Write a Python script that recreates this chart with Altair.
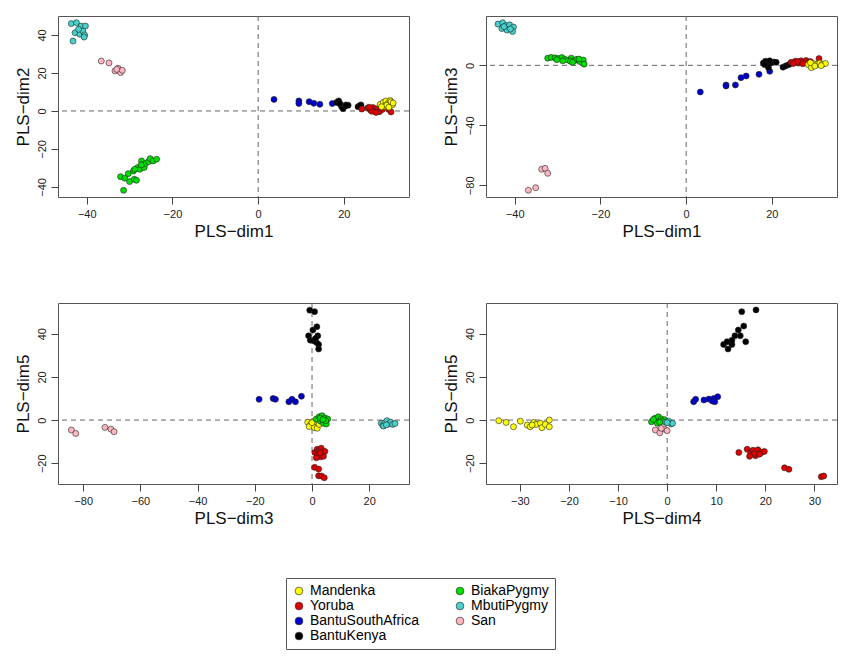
import altair as alt
import pandas as pd

groups = ["Mandenka", "Yoruba", "BantuSouthAfrica", "BantuKenya",
          "BiakaPygmy", "MbutiPygmy", "San"]
colors = ["#FFFF00", "#E00000", "#0000CD", "#000000",
          "#00DD00", "#48D1CC", "#FFB6C1"]

# panel 1: dim1 vs dim2
p1 = {
    "MbutiPygmy": [(-43.6, 46.0), (-42.4, 46.5), (-41.3, 44.7), (-40.3, 44.7), (-42.7, 41.2),
                   (-41.6, 40.4), (-40.9, 42.1), (-40.5, 40.0), (-43.2, 36.8), (-40.6, 38.9),
                   (-41.9, 43.0)],
    "San": [(-36.6, 26.3), (-34.8, 25.3), (-33.4, 21.1), (-32.7, 22.5), (-32.1, 20.2),
            (-31.7, 21.4), (-33.0, 21.9)],
    "BiakaPygmy": [(-32.1, -34.6), (-31.1, -35.4), (-31.4, -41.8), (-30.3, -33.0), (-30.0, -37.2),
                   (-29.1, -31.6), (-28.9, -36.0), (-28.4, -36.5), (-28.1, -29.8), (-27.6, -30.7),
                   (-27.2, -26.3), (-27.0, -28.4), (-26.6, -29.8), (-26.3, -27.7), (-25.6, -26.7),
                   (-25.2, -25.1), (-24.5, -26.3), (-23.7, -25.4), (-27.3, -28.4), (-28.8, -30.7)],
    "BantuSouthAfrica": [(3.7, 6.1), (9.5, 5.3), (9.5, 3.9), (11.9, 4.9), (13.0, 4.0),
                         (14.4, 3.5), (17.3, 3.9)],
    "BantuKenya": [(18.3, 4.5), (18.8, 5.3), (19.2, 3.5), (19.5, 2.2), (19.8, 1.2), (20.3, 2.5),
                   (21.0, 3.0), (19.0, 4.0), (20.5, 3.2), (23.3, 2.2), (24.0, 3.2), (23.7, 2.8)],
    "Yoruba": [(24.2, 1.0), (25.5, 1.5), (26.2, 0.5), (26.8, 1.8), (27.2, 0.0), (27.8, 1.2),
               (28.3, -0.4), (29.0, 0.8), (26.5, -0.2), (25.9, 2.0), (28.8, 2.2), (30.5, 0.8),
               (31.0, -0.5), (27.5, -0.8)],
    "Mandenka": [(28.5, 3.5), (29.2, 4.5), (29.8, 5.2), (30.3, 4.0), (30.8, 5.5), (31.3, 3.2),
                 (29.5, 2.5), (30.0, 3.0), (31.0, 4.8), (28.8, 2.2), (30.5, 2.0), (31.5, 4.2)],
}

# panel 2: dim1 vs dim3
p2 = {
    "MbutiPygmy": [(-43.9, 27.5), (-42.8, 28.4), (-42.0, 26.5), (-41.2, 27.0), (-40.3, 25.5),
                   (-43.0, 24.5), (-41.8, 23.5), (-40.5, 22.6), (-42.5, 25.8), (-41.0, 24.2)],
    "BiakaPygmy": [(-32.3, 4.8), (-31.5, 5.3), (-30.6, 5.0), (-29.8, 4.5), (-29.0, 5.2), (-28.3, 4.0),
                   (-27.5, 3.5), (-26.8, 4.8), (-26.0, 3.2), (-25.5, 4.0), (-24.8, 2.5), (-24.0, 3.5),
                   (-23.8, 0.8), (-28.8, 3.0), (-27.0, 2.8), (-25.0, 4.2), (-30.2, 3.8), (-26.5, 2.0)],
    "San": [(-33.7, -69.3), (-32.9, -68.7), (-32.3, -72.0), (-35.1, -81.6), (-36.8, -83.3)],
    "BantuSouthAfrica": [(3.3, -17.8), (9.3, -13.1), (9.3, -13.8), (11.5, -13.1), (12.8, -8.2),
                         (14.0, -7.1), (17.0, -6.0), (19.5, -4.0)],
    "BantuKenya": [(18.0, 1.5), (18.5, 2.8), (19.0, 0.0), (19.2, -1.5), (19.8, 1.8), (20.5, 2.2),
                   (21.0, 2.0), (18.3, 0.5), (19.5, 3.0), (22.6, -1.2), (23.3, -0.3), (24.0, 0.5)],
    "Yoruba": [(24.5, 2.0), (25.5, 2.8), (26.2, 1.5), (26.8, 3.0), (27.5, 2.2), (28.0, 3.2),
               (28.5, 1.8), (26.0, 2.5), (27.2, 1.0), (31.0, 4.5), (29.0, 2.5), (25.0, 1.2)],
    "Mandenka": [(28.5, 0.5), (29.2, -1.5), (29.8, 1.0), (30.5, 0.5), (31.2, 1.5), (31.8, 0.8),
                 (32.5, 1.2), (30.0, -0.5), (29.0, 1.8), (31.5, -0.2)],
}

# panel 3: dim3 vs dim5
p3 = {
    "BantuKenya": [(-0.8, 50.9), (0.9, 50.2), (1.7, 43.2), (0.3, 41.7), (-1.2, 39.0), (2.0, 39.0),
                   (-0.6, 37.0), (0.6, 36.7), (1.5, 36.0), (2.3, 35.0), (2.3, 32.9), (1.2, 37.8)],
    "BantuSouthAfrica": [(-18.5, 9.6), (-13.6, 10.0), (-12.8, 9.6), (-8.1, 8.5), (-7.0, 9.6),
                         (-5.8, 8.5), (-3.7, 11.0)],
    "San": [(-84.1, -4.6), (-82.6, -6.2), (-72.4, -3.4), (-70.3, -4.2), (-69.2, -5.4)],
    "Mandenka": [(-1.5, -1.0), (-0.5, -2.0), (0.5, -0.5), (1.2, -2.5), (2.0, -1.5), (-1.0, -3.0),
                 (0.8, -3.5), (1.8, -3.8), (2.5, -2.0), (0.0, -1.2)],
    "BiakaPygmy": [(1.5, 0.5), (2.5, 1.5), (3.5, 2.0), (4.5, 1.0), (5.5, 0.5), (3.0, -0.5),
                   (4.0, -1.5), (5.0, -1.8), (2.8, 0.8), (4.8, -0.3), (3.8, 0.2)],
    "MbutiPygmy": [(24.2, -1.5), (24.8, -2.5), (25.5, -1.2), (26.2, -0.3), (26.8, -1.8),
                   (27.5, -1.0), (28.2, -2.0), (29.0, -1.6), (25.0, -2.8), (26.0, -2.2)],
    "Yoruba": [(1.0, -15.0), (1.8, -13.5), (2.5, -14.2), (3.2, -13.0), (3.8, -15.5), (4.5, -14.5),
               (2.0, -16.5), (3.0, -17.0), (1.5, -17.5), (4.0, -16.8), (2.8, -15.2),
               (0.9, -21.9), (2.3, -22.7), (2.3, -25.8), (3.3, -25.9), (4.3, -26.7)],
}

# panel 4: dim4 vs dim5
p4 = {
    "BantuKenya": [(15.2, 50.2), (18.1, 51.0), (15.6, 43.5), (14.5, 41.7), (13.8, 39.0), (14.9, 39.0),
                   (16.0, 36.3), (11.5, 35.0), (12.2, 36.3), (12.4, 32.9), (13.2, 35.0), (13.2, 37.0)],
    "BantuSouthAfrica": [(5.4, 8.5), (5.8, 9.6), (7.5, 9.3), (8.5, 9.7), (9.2, 8.8), (9.5, 10.0),
                         (10.3, 10.8), (9.7, 8.5)],
    "Mandenka": [(-34.3, -0.3), (-32.8, -1.1), (-31.3, -3.1), (-29.9, -0.5), (-28.5, -2.3),
                 (-27.9, -3.1), (-27.2, -1.1), (-26.7, -2.0), (-25.8, -1.5), (-25.5, -3.5),
                 (-24.8, -2.0), (-24.0, 0.0), (-24.0, -3.1), (-27.5, -2.3)],
    "BiakaPygmy": [(-3.2, -0.8), (-2.5, 0.8), (-1.8, 1.5), (-1.2, 0.5), (-0.5, 0.2), (-2.0, -1.5),
                   (-1.0, -0.5), (-2.8, 0.3), (-1.5, -1.0)],
    "MbutiPygmy": [(-0.3, -1.0), (0.3, -0.5), (0.8, -1.8), (1.1, -1.5), (0.0, -1.2)],
    "San": [(-2.4, -4.6), (-1.5, -5.9), (-0.5, -4.2), (0.0, -4.9), (-1.2, -3.8)],
    "Yoruba": [(16.3, -13.5), (17.0, -15.2), (17.5, -14.0), (18.0, -16.5), (18.5, -13.8),
               (19.2, -15.0), (19.8, -14.5), (17.8, -15.5), (16.8, -16.8), (18.8, -15.8),
               (14.6, -15.0), (23.9, -22.1), (24.8, -22.8), (31.4, -26.2), (31.9, -25.9)],
}

FONT = "Liberation Sans"


def to_df(panel):
    rows = []
    for g, pts in panel.items():
        for x, y in pts:
            rows.append({"group": g, "x": x, "y": y})
    return pd.DataFrame(rows)


def panel(data, xt, yt, xdom, ydom, xticks, yticks):
    df = to_df(data)
    color = alt.Color("group:N", scale=alt.Scale(domain=groups, range=colors),
                      legend=alt.Legend(title=None, orient="none", legendX=228, legendY=562,
                                        columns=2, symbolType="circle", symbolSize=60,
                                        symbolStrokeColor="#333", symbolStrokeWidth=0.7,
                                        labelFontSize=14, labelFont=FONT, strokeColor="#555",
                                        padding=6, rowPadding=1, columnPadding=34,
                                        symbolOpacity=1, fillColor="white"))
    xs = alt.Scale(domain=xdom, nice=False, zero=False)
    ys = alt.Scale(domain=ydom, nice=False, zero=False)
    pts = alt.Chart(df).mark_circle(size=36, opacity=1, stroke="#222", strokeWidth=0.6).encode(
        x=alt.X("x:Q", scale=xs, title=xt,
                axis=alt.Axis(values=xticks, grid=False, domain=False, tickSize=7,
                              labelFontSize=11, titleFontSize=17, labelPadding=4, titlePadding=4)),
        y=alt.Y("y:Q", scale=ys, title=yt,
                axis=alt.Axis(values=yticks, grid=False, domain=False, tickSize=7, labelAngle=-90,
                              labelAlign="center", labelBaseline="bottom",
                              labelFontSize=11, titleFontSize=17, labelPadding=4, titlePadding=4)),
        color=color,
    )
    vline = alt.Chart(pd.DataFrame({"v": [0]})).mark_rule(
        strokeDash=[5, 4], color="#666", strokeWidth=1).encode(x=alt.X("v:Q", scale=xs))
    hline = alt.Chart(pd.DataFrame({"v": [0]})).mark_rule(
        strokeDash=[5, 4], color="#666", strokeWidth=1).encode(y=alt.Y("v:Q", scale=ys))
    return alt.layer(vline, hline, pts).properties(width=351, height=181)


c1 = panel(p1, "PLS\u2212dim1", "PLS\u2212dim2", [-46.7, 35.2], [-45.3, 50],
           [-40, -20, 0, 20], [-40, -20, 0, 20, 40])
c2 = panel(p2, "PLS\u2212dim1", "PLS\u2212dim3", [-46.7, 35.2], [-87.8, 32.9],
           [-40, -20, 0, 20], [-80, -60, -40, -20, 0, 20])
c3 = panel(p3, "PLS\u2212dim3", "PLS\u2212dim5", [-88.8, 33.9], [-29.6, 54.2],
           [-80, -60, -40, -20, 0, 20], [-20, 0, 20, 40])
c4 = panel(p4, "PLS\u2212dim4", "PLS\u2212dim5", [-36.9, 34.6], [-29.6, 54.2],
           [-30, -20, -10, 0, 10, 20, 30], [-20, 0, 20, 40])

chart = alt.vconcat(
    alt.hconcat(c1, c2, spacing=31),
    alt.hconcat(c3, c4, spacing=31),
    spacing=62,
).configure_view(stroke="#555", strokeWidth=1).configure_axis(
    labelFont=FONT, titleFont=FONT, labelColor="#222", titleColor="#111",
    tickColor="#444", titleFontWeight="normal"
).properties(padding={"left": 5, "top": 7, "right": 0, "bottom": 0})

chart.save("out.html", embed_options={"renderer": "svg", "actions": False})
